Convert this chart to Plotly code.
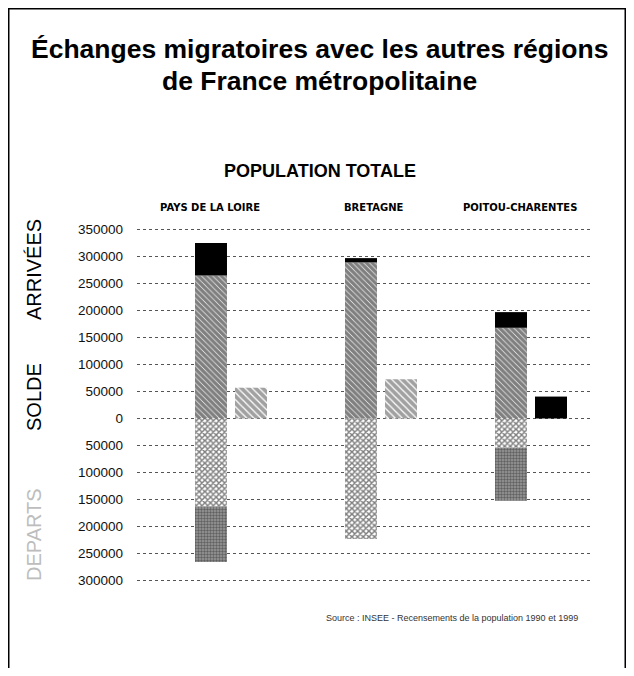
import numpy as np
import plotly.graph_objects as go

regions = ["PAYS DE LA LOIRE", "BRETAGNE", "POITOU-CHARENTES"]
arrivees_base = [265000, 289000, 168000]
arrivees_haut = [60000, 8000, 29000]
departs_clair = [163000, 223000, 54000]
departs_fonce = [103000, 0, 98500]
solde = [57000, 72500, 40600]
tick_vals = [350000, 300000, 250000, 200000, 150000, 100000, 50000, 0,
             -50000, -100000, -150000, -200000, -250000, -300000]
tick_text = [f"{abs(v)}" for v in tick_vals]

idx = np.arange(len(regions))
BAR_W = 0.2133
SOLDE_SHIFT = 0.2667

# page body has an 8px margin: figure is sized to fit inside the window
W, H = 618, 660
PL, PR, PT, PB = 137, 590, 220, 595   # plot area in window pixels
OFF = 8


def px(xp):
    return (xp - PL) / (PR - PL)


def py(yp):
    return (PB - yp) / (PB - PT)


fig = go.Figure()
fig.add_bar(x=idx, y=arrivees_base, width=BAR_W,
            marker=dict(color="white", line=dict(width=0),
                        pattern=dict(shape="\\", fgcolor="black", bgcolor="white",
                                     size=4, solidity=0.85)))
fig.add_bar(x=idx, y=arrivees_haut, width=BAR_W,
            marker=dict(color="black", line=dict(width=0)))
fig.add_bar(x=idx, y=[-v for v in departs_clair], width=BAR_W,
            marker=dict(color="white", line=dict(width=0),
                        pattern=dict(shape="x", fgcolor="black", bgcolor="white",
                                     size=4, solidity=0.6)))
fig.add_bar(x=idx, y=[-v for v in departs_fonce], width=BAR_W,
            marker=dict(color="#8c8c8c", line=dict(width=0),
                        pattern=dict(shape=".", fgcolor="#262626", bgcolor="#9a9a9a",
                                     size=3, solidity=0.5)))
fig.add_bar(x=idx + SOLDE_SHIFT, y=solde, width=BAR_W,
            marker=dict(color=["white", "white", "black"], line=dict(width=0),
                        pattern=dict(shape=["\\", "\\", ""], fgcolor="black",
                                     bgcolor="white", size=5, solidity=0.75)))

fig.update_layout(
    width=W, height=H,
    barmode="relative",
    showlegend=False,
    paper_bgcolor="white", plot_bgcolor="white",
    margin=dict(l=PL - OFF, r=W - (PR - OFF), t=PT - OFF, b=H - (PB - OFF)),
    font=dict(family="Liberation Sans, Arial, sans-serif", color="black"),
    xaxis=dict(range=[-0.4933, 2.5267], showticklabels=False, showgrid=False,
               zeroline=False, showline=False, ticks=""),
    yaxis=dict(range=[-326900, 367600], tickvals=tick_vals, ticktext=tick_text,
               tickfont=dict(size=13.5, color="#111111"),
               ticks="", ticklabelstandoff=13,
               showgrid=True, gridcolor="#555555", griddash="dot", gridwidth=1,
               zeroline=False, showline=False),
)

# title lines
for line, yc in [("Échanges migratoires avec les autres régions", 49),
                 ("de France métropolitaine", 81)]:
    fig.add_annotation(text=f"<b>{line}</b>", xref="paper", yref="paper",
                       x=px(319), y=py(yc), xanchor="center", yanchor="middle",
                       showarrow=False, font=dict(size=26.5, color="black"))

# region labels
shifts = [-1, 13, 9]
for r, i, s in zip(regions, idx, shifts):
    fig.add_annotation(text=f"<b>{r}</b>", x=i, xref="x", xshift=s,
                       y=py(207), yref="paper", xanchor="center", yanchor="middle",
                       showarrow=False,
                       font=dict(family="DejaVu Sans, sans-serif", size=10, color="black"))

fig.add_annotation(text="<b>POPULATION TOTALE</b>", xref="paper", yref="paper",
                   x=px(320), y=py(171), xanchor="center", yanchor="middle",
                   showarrow=False, font=dict(size=18, color="black"))

for txt, yc, col in [("ARRIVÉES", 270, "black"), ("SOLDE", 397, "black"),
                     ("DEPARTS", 535, "#bdbdbd")]:
    fig.add_annotation(text=txt, textangle=-90, xref="paper", yref="paper",
                       x=px(34), y=py(yc), xanchor="center", yanchor="middle",
                       showarrow=False, font=dict(size=20, color=col))

fig.add_annotation(text="Source : INSEE - Recensements de la population 1990 et 1999",
                   xref="paper", yref="paper", x=px(580), y=py(618),
                   xanchor="right", yanchor="middle", showarrow=False,
                   font=dict(size=9, color="#333333"))

# outer frame
fig.add_shape(type="rect", xref="paper", yref="paper",
              x0=px(OFF + 0.75), x1=px(625.25),
              y0=py(700), y1=py(OFF + 0.75),
              line=dict(color="black", width=1.5), fillcolor="rgba(0,0,0,0)", layer="above")

fig.write_html("out.html")
